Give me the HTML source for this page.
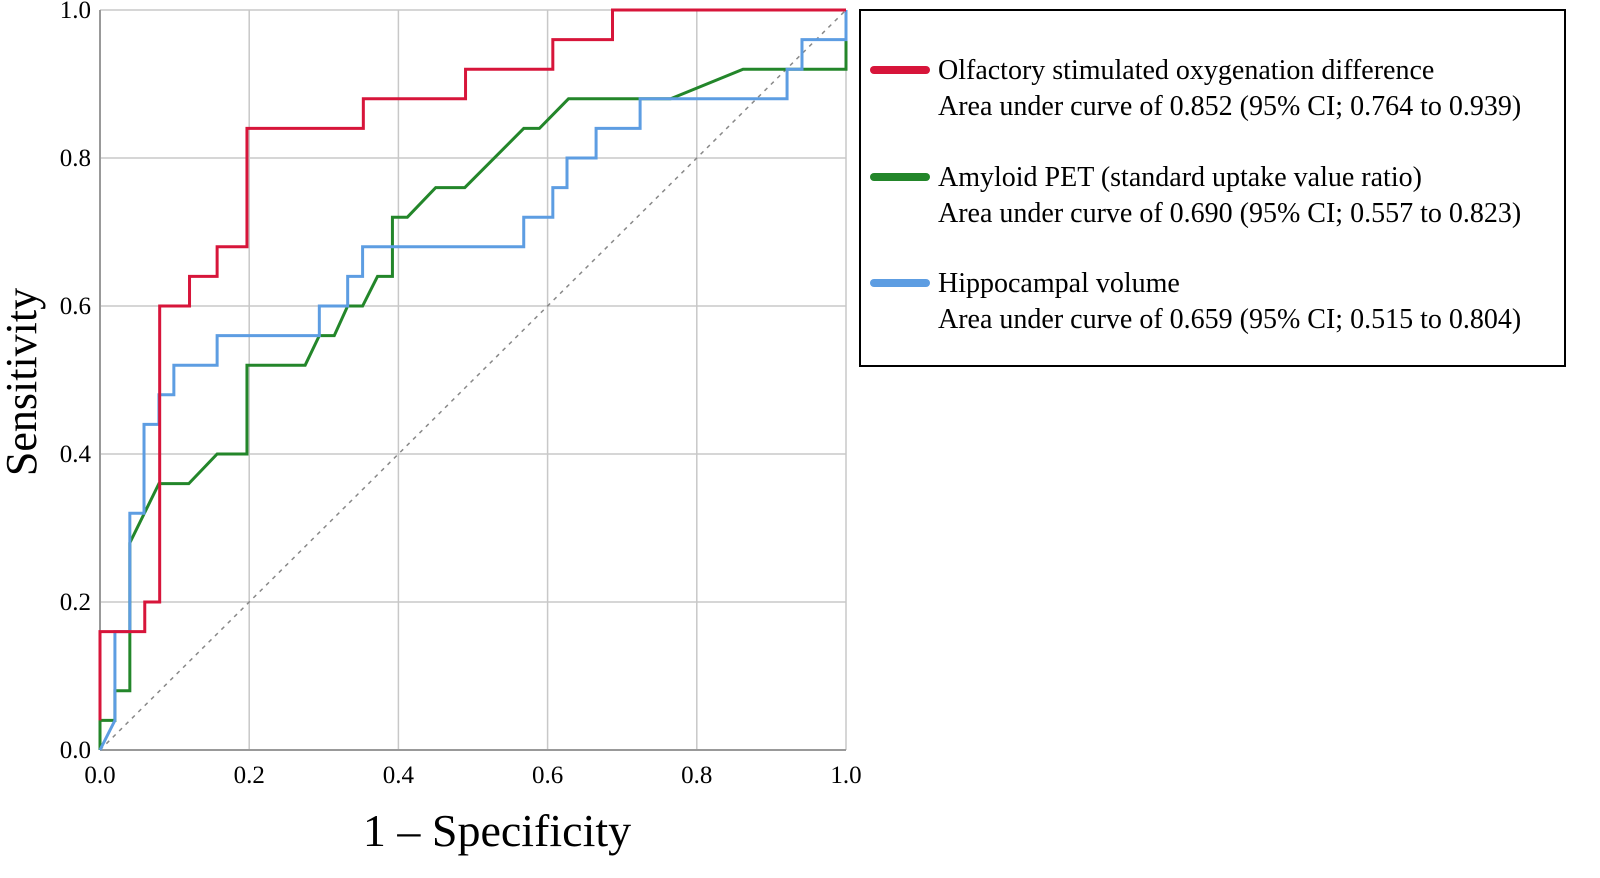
<!DOCTYPE html>
<html><head><meta charset="utf-8"><style>
body{margin:0;background:#fff;}
svg{display:block;font-family:"Liberation Serif",serif;}
</style></head><body>
<svg id="chart" width="1600" height="878" viewBox="0 0 1600 878">
<g id="grid"></g>
<line x1="100" y1="750" x2="100" y2="10" stroke="#999" stroke-width="2"/>
<line x1="100" y1="750" x2="846" y2="750" stroke="#999" stroke-width="2"/>
<g id="ticks"></g>
<line id="diag" stroke="#888" stroke-width="1.5" stroke-dasharray="4,5"/>
<g id="series"></g>
<text x="497" y="846" font-size="46" text-anchor="middle">1 – Specificity</text>
<text transform="translate(36,382) rotate(-90)" font-size="44" text-anchor="middle">Sensitivity</text>
<g>
<rect x="860" y="10" width="705" height="356" fill="none" stroke="#000" stroke-width="2"/>
<g>
<line x1="874" y1="70" x2="926" y2="70" stroke="#d7153a" stroke-width="8" stroke-linecap="round"/>
<text x="938" y="79" font-size="28">Olfactory stimulated oxygenation difference</text>
<text x="938" y="115" font-size="28">Area under curve of 0.852 (95% CI; 0.764 to 0.939)</text></g>
<g>
<line x1="874" y1="177" x2="926" y2="177" stroke="#23862a" stroke-width="8" stroke-linecap="round"/>
<text x="938" y="186" font-size="28">Amyloid PET (standard uptake value ratio)</text>
<text x="938" y="222" font-size="28">Area under curve of 0.690 (95% CI; 0.557 to 0.823)</text></g>
<g>
<line x1="874" y1="283" x2="926" y2="283" stroke="#5d9de2" stroke-width="8" stroke-linecap="round"/>
<text x="938" y="292" font-size="28">Hippocampal volume</text>
<text x="938" y="328" font-size="28">Area under curve of 0.659 (95% CI; 0.515 to 0.804)</text></g>
</g>
</svg>
<script>
const xTicks=[0,0.2,0.4,0.6,0.8,1.0];
const yTicks=[0,0.2,0.4,0.6,0.8,1.0];
const redX=[0,0,0.06,0.06,0.08,0.08,0.12,0.12,0.157,0.157,0.197,0.197,0.353,0.353,0.49,0.49,0.607,0.607,0.687,0.687,1.0];
const redY=[0.04,0.16,0.16,0.2,0.2,0.6,0.6,0.64,0.64,0.68,0.68,0.84,0.84,0.88,0.88,0.92,0.92,0.96,0.96,1.0,1.0];
const greenX=[0,0,0.02,0.02,0.04,0.04,0.079,0.119,0.157,0.197,0.197,0.275,0.294,0.314,0.332,0.352,0.372,0.392,0.392,0.412,0.45,0.489,0.568,0.589,0.628,0.765,0.862,1.0,1.0];
const greenY=[0,0.04,0.04,0.08,0.08,0.28,0.36,0.36,0.40,0.40,0.52,0.52,0.56,0.56,0.60,0.60,0.64,0.64,0.72,0.72,0.76,0.76,0.84,0.84,0.88,0.88,0.92,0.92,1.0];
const blueX=[0,0.02,0.02,0.04,0.04,0.059,0.059,0.079,0.079,0.099,0.099,0.157,0.157,0.294,0.294,0.332,0.332,0.352,0.352,0.568,0.568,0.607,0.607,0.626,0.626,0.665,0.665,0.724,0.724,0.921,0.921,0.941,0.941,1.0,1.0];
const blueY=[0,0.04,0.16,0.16,0.32,0.32,0.44,0.44,0.48,0.48,0.52,0.52,0.56,0.56,0.60,0.60,0.64,0.64,0.68,0.68,0.72,0.72,0.76,0.76,0.80,0.80,0.84,0.84,0.88,0.88,0.92,0.92,0.96,0.96,1.0];
const NS="http://www.w3.org/2000/svg";
const sx=v=>100+746*v, sy=v=>750-740*v;
const grid=document.getElementById('grid'), ticks=document.getElementById('ticks');
xTicks.forEach(t=>{
 if(t>0){const l=document.createElementNS(NS,'line');
 l.setAttribute('x1',sx(t));l.setAttribute('x2',sx(t));l.setAttribute('y1',sy(0));l.setAttribute('y2',sy(1));
 l.setAttribute('stroke','#c8c8c8');l.setAttribute('stroke-width','1.5');
 
 
 grid.appendChild(l);}
 const tx=document.createElementNS(NS,'text');
 tx.setAttribute('x',sx(t));tx.setAttribute('y',783);tx.setAttribute('font-size','25');tx.setAttribute('text-anchor','middle');
 tx.textContent=t.toFixed(1);
 
 
 ticks.appendChild(tx);
});
yTicks.forEach(t=>{
 if(t>0){const l=document.createElementNS(NS,'line');
 l.setAttribute('x1',sx(0));l.setAttribute('x2',sx(1));l.setAttribute('y1',sy(t));l.setAttribute('y2',sy(t));
 l.setAttribute('stroke','#c8c8c8');l.setAttribute('stroke-width','1.5');
 
 
 grid.appendChild(l);}
 const tx=document.createElementNS(NS,'text');
 tx.setAttribute('x',91);tx.setAttribute('y',sy(t)+8);tx.setAttribute('font-size','25');tx.setAttribute('text-anchor','end');
 tx.textContent=t.toFixed(1);
 
 
 ticks.appendChild(tx);
});
const d=document.getElementById('diag');
d.setAttribute('x1',sx(0));d.setAttribute('y1',sy(0));d.setAttribute('x2',sx(1));d.setAttribute('y2',sy(1));
const ser=document.getElementById('series');
[[greenX,greenY,'#23862a','amyloid-pet-curve'],[blueX,blueY,'#5d9de2','hippocampal-volume-curve'],[redX,redY,'#d7153a','olfactory-curve']].forEach(([xs,ys,c,n])=>{
 const p=document.createElementNS(NS,'polyline');
 p.setAttribute('points',xs.map((x,i)=>sx(x)+','+sy(ys[i])).join(' '));
 p.setAttribute('fill','none');p.setAttribute('stroke',c);p.setAttribute('stroke-width','3');
 
 
 ser.appendChild(p);
});
</script>
</body></html>
